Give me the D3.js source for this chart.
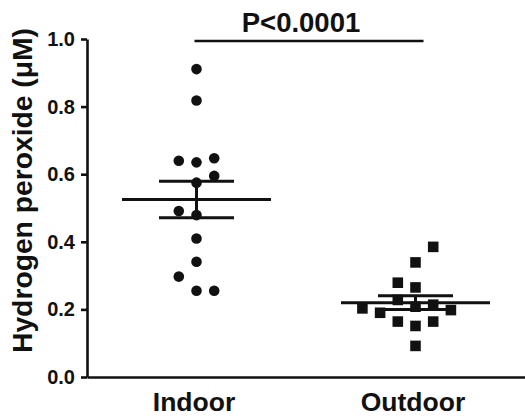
<!DOCTYPE html>
<html>
<head>
<meta charset="utf-8">
<script src="https://cdn.jsdelivr.net/npm/d3@7"></script>
<style>
  body { margin: 0; background: #fff; }
  text { font-family: "Liberation Sans", Arial, sans-serif; font-weight: bold; fill: #111; }
</style>
</head>
<body>
<svg id="chart" width="525" height="417"></svg>
<script>
const groups = ['Indoor', 'Outdoor'];
// values in the order they get stacked into the swarm
const indoor = [0.911, 0.818, 0.635, 0.640, 0.647, 0.575, 0.595, 0.479, 0.491, 0.410, 0.341, 0.255, 0.297, 0.255];
const outdoor = [0.265, 0.279, 0.339, 0.385, 0.151, 0.092, 0.208, 0.228, 0.214, 0.164, 0.164, 0.190, 0.198, 0.203];
const yTicks = [0, 0.2, 0.4, 0.6, 0.8, 1.0];
const yTitle = 'Hydrogen peroxide (\u03bcM)';
const pLabel = 'P<0.0001';

const ink = '#111';
const slotWidth = 17.7;
const minGap = 16.2;

const svg = d3.select('#chart');

const x = d3.scalePoint().domain(groups).range([87, 525]).padding(0.5);
const y = d3.scaleLinear().domain([0, 1]).range([377, 39]);

// greedy swarm: middle first, then the emptier side
const swarm = (values) => {
  const cols = new Map();
  const col = s => cols.get(s) || [];
  return values.map(v => {
    const py = y(v);
    const free = s => col(s).every(p => Math.abs(p - py) >= minGap);
    let slot = 0;
    if (!free(0)) {
      for (let k = 1; ; k++) {
        const l = free(-k), r = free(k);
        if (l && r) { slot = col(k).length < col(-k).length ? k : -k; break; }
        if (l) { slot = -k; break; }
        if (r) { slot = k; break; }
      }
    }
    cols.set(slot, col(slot).concat(py));
    return { v, slot };
  });
};

const series = [
  { name: 'Indoor', values: indoor, symbol: d3.symbolCircle, size: 88 },
  { name: 'Outdoor', values: outdoor, symbol: d3.symbolSquare, size: 112 }
];

// 1. the points
series.forEach(s => {
  svg.append('g')
    .selectAll('path')
    .data(swarm(s.values))
    .enter()
      .append('path')
      .attr('d', d3.symbol().type(s.symbol).size(s.size))
      .attr('transform', d => `translate(${x(s.name) + d.slot * slotWidth}, ${y(d.v)})`)
      .attr('fill', ink);
});

// 2. mean and SEM bars
series.forEach(s => {
  const m = d3.mean(s.values);
  const sem = d3.deviation(s.values) / Math.sqrt(s.values.length);
  const cx = x(s.name);
  const g = svg.append('g').attr('stroke', ink).attr('stroke-width', 3);
  g.append('line').attr('x1', cx - 74.5).attr('x2', cx + 74.5).attr('y1', y(m)).attr('y2', y(m));
  [m - sem, m + sem].forEach(v => {
    g.append('line').attr('x1', cx - 37.5).attr('x2', cx + 37.5).attr('y1', y(v)).attr('y2', y(v));
  });
  g.append('line').attr('x1', cx).attr('x2', cx).attr('y1', y(m - sem)).attr('y2', y(m + sem));
});

// 3. axes
const yAxis = svg.append('g')
  .attr('transform', 'translate(87, 0)')
  .call(d3.axisLeft(y).tickValues(yTicks).tickFormat(d3.format('.1f'))
    .tickSize(6).tickSizeOuter(0).tickPadding(6));
yAxis.selectAll('text').style('font-size', '20px').attr('fill', ink);

const xAxis = svg.append('g')
  .attr('transform', 'translate(0, 377)')
  .call(d3.axisBottom(x).tickSize(0).tickSizeOuter(0).tickPadding(15));
xAxis.selectAll('text').style('font-size', '26.5px').attr('fill', ink).attr('dx', -3);

svg.selectAll('.domain, .tick line').attr('stroke', ink).attr('stroke-width', 2.6);

svg.append('text')
  .attr('transform', 'translate(31.5, 190.5) rotate(-90)')
  .attr('text-anchor', 'middle')
  .attr('textLength', 325)
  .attr('lengthAdjust', 'spacingAndGlyphs')
  .style('font-size', '27px')
  .text(yTitle);

// 4. significance bracket
svg.append('line')
  .attr('x1', x('Indoor') - 2).attr('x2', x('Outdoor') + 8)
  .attr('y1', 41).attr('y2', 41)
  .attr('stroke', ink).attr('stroke-width', 2.6);

svg.append('text')
  .attr('x', 301).attr('y', 32)
  .attr('text-anchor', 'middle')
  .style('font-size', '27.5px')
  .text(pLabel);
</script>
</body>
</html>
